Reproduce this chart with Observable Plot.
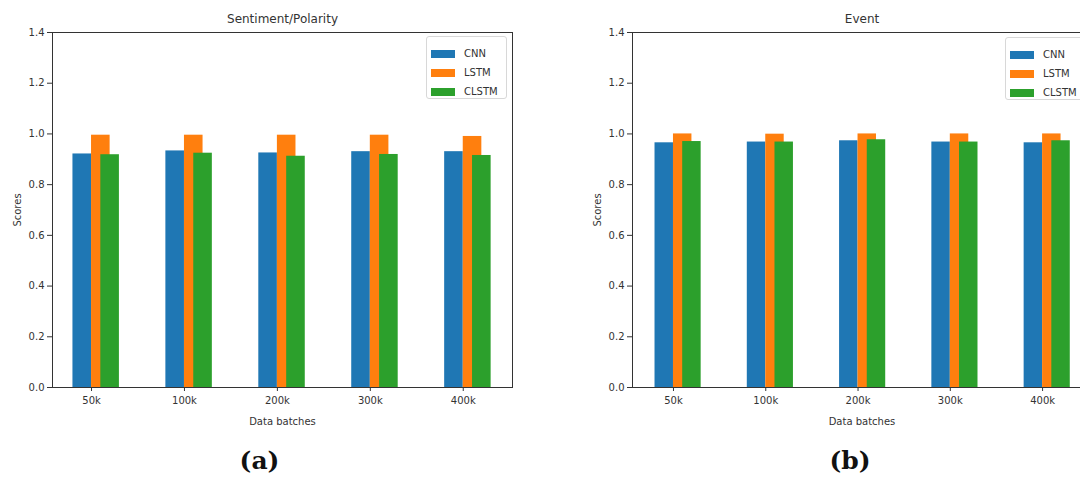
<!DOCTYPE html>
<html>
<head>
<meta charset="utf-8">
<script src="https://cdn.jsdelivr.net/npm/d3@7"></script>
<script src="https://cdn.jsdelivr.net/npm/@observablehq/plot@0.6"></script>
<style>
  html, body { margin: 0; padding: 0; background: #fff; }
  body { width: 1080px; height: 477px; overflow: hidden; position: relative; font-family: "DejaVu Sans", sans-serif; }
  .panel { position: absolute; top: 0; }
  .panel svg { max-width: none !important; }
  .legend { position: absolute; border: 1px solid #d8d8d8; border-radius: 3px; background: rgba(255,255,255,0.85); box-sizing: border-box; padding: 7px 0 0 4px; }
  .legend .row { display: flex; align-items: center; height: 19px; font-size: 10px; color: #333; }
  .legend .sw { width: 24px; height: 8px; margin-right: 9px; }
</style>
</head>
<body>
<script>
// ---- data ----
const batches = ["50k", "100k", "200k", "300k", "400k"];
const models = ["CNN", "LSTM", "CLSTM"];
const sentimentCNN   = [0.921, 0.933, 0.925, 0.930, 0.930];
const sentimentLSTM  = [0.995, 0.995, 0.995, 0.995, 0.990];
const sentimentCLSTM = [0.918, 0.924, 0.912, 0.919, 0.915];
const eventCNN   = [0.965, 0.968, 0.973, 0.968, 0.965];
const eventLSTM  = [1.000, 0.999, 1.000, 1.000, 1.000];
const eventCLSTM = [0.970, 0.968, 0.977, 0.968, 0.973];
const yTicks = [0, 0.2, 0.4, 0.6, 0.8, 1.0, 1.2, 1.4];

// ---- styles / layout ----
const colors = ["#1f77b4", "#ff7f0e", "#2ca02c"];
const barOffsets = {CNN: [-0.2, 0], LSTM: [0, 0.2], CLSTM: [0.1, 0.3]};
const ink = "#333";

function panel(opts) {
  const series = [opts.cnn, opts.lstm, opts.clstm];
  const rows = batches.flatMap((b, i) => models.map((m, k) => ({i, model: m, value: series[k][i]})));
  const plot = Plot.plot({
    width: opts.width,
    height: 477,
    marginTop: 32,
    marginBottom: 90,
    marginLeft: opts.marginLeft,
    marginRight: opts.marginRight,
    style: {fontFamily: "DejaVu Sans", fontSize: "10px", color: ink, background: "white", overflow: "visible", maxWidth: "none"},
    x: {type: "linear", domain: opts.xDomain},
    y: {domain: [0, 1.4]},
    color: {domain: models, range: colors},
    marks: [
      Plot.rectY(rows, {
        x1: d => d.i + barOffsets[d.model][0],
        x2: d => d.i + barOffsets[d.model][1],
        y: "value",
        fill: "model"
      }),
      Plot.axisY({ticks: yTicks, tickFormat: d3.format(".1f"), tickSize: 5, tickPadding: 3,
        label: "Scores", labelAnchor: "center", labelOffset: 39, labelArrow: "none", fontSize: 10}),
      Plot.axisX({ticks: batches.map((_, i) => i), tickFormat: i => batches[i], tickSize: 4, tickPadding: 5,
        label: "Data batches", labelAnchor: "center", labelOffset: 37, labelArrow: "none", fontSize: 10}),
      Plot.frame({stroke: ink, strokeWidth: 1}),
      Plot.text([opts.title], {text: d => d, frameAnchor: "top", lineAnchor: "middle", dy: -13, fontSize: 12, fill: ink}),
      Plot.text([opts.caption], {text: d => d, frameAnchor: "bottom", lineAnchor: "middle", dy: 73, dx: opts.captionDx,
        fontSize: 25, fontWeight: "bold", fontFamily: "DejaVu Serif", fill: "#111"})
    ]
  });
  const div = document.createElement("div");
  div.className = "panel";
  div.style.left = opts.left + "px";
  div.style.width = opts.width + "px";
  div.appendChild(plot);
  document.body.appendChild(div);

  const lg = document.createElement("div");
  lg.className = "legend";
  lg.style.left = opts.legendLeft + "px";
  lg.style.top = opts.legendTop + "px";
  lg.style.width = "81px";
  lg.style.height = "63px";
  models.forEach((m, k) => {
    const row = document.createElement("div");
    row.className = "row";
    const sw = document.createElement("span");
    sw.className = "sw";
    sw.style.background = colors[k];
    const t = document.createElement("span");
    t.textContent = m;
    row.appendChild(sw);
    row.appendChild(t);
    lg.appendChild(row);
  });
  document.body.appendChild(lg);
}

panel({cnn: sentimentCNN, lstm: sentimentLSTM, clstm: sentimentCLSTM,
  title: "Sentiment/Polarity", caption: "(a)", captionDx: -23,
  left: 0, width: 540, marginLeft: 52, marginRight: 28, xDomain: [-0.42, 4.53],
  legendLeft: 426, legendTop: 36});

panel({cnn: eventCNN, lstm: eventLSTM, clstm: eventCLSTM,
  title: "Event", caption: "(b)", captionDx: -12,
  left: 560, width: 560, marginLeft: 72, marginRight: 29, xDomain: [-0.444, 4.53],
  legendLeft: 1005, legendTop: 37});
</script>
</body>
</html>
